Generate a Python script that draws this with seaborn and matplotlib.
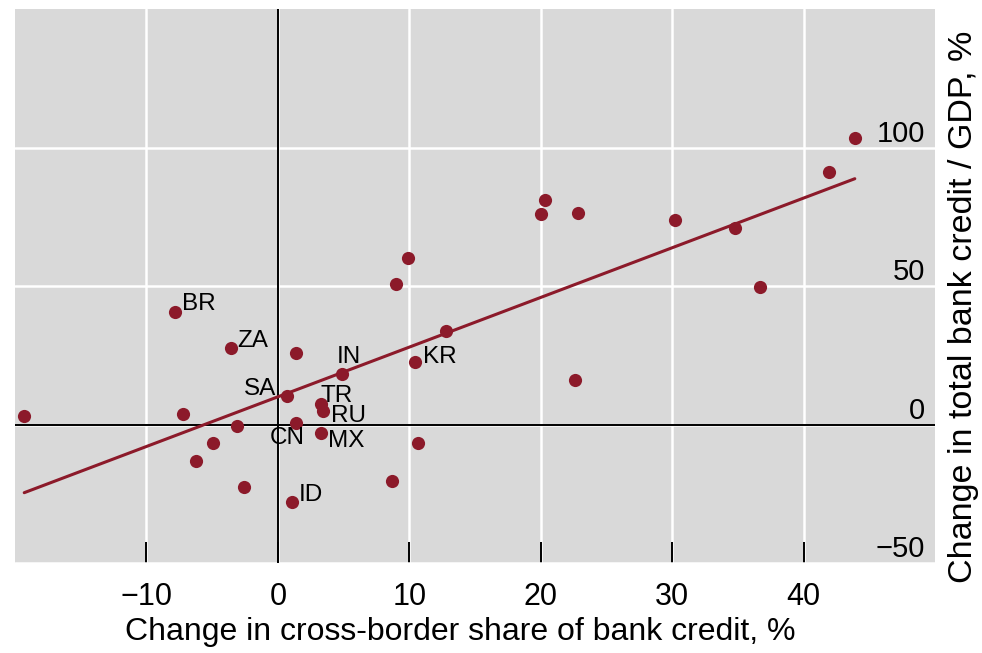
import numpy as np
import pandas as pd
import seaborn as sns
import matplotlib.pyplot as plt

# Dữ liệu
x_share = [-19.3, -7.8, -3.6, 1.4, 4.9, 10.4, 12.8, 0.7, 3.3, 3.4, 1.4, 3.3,
           -3.1, -7.2, -4.9, -6.2, -2.6, 1.1, 8.7, 10.7, 9.0, 9.9, 20.3, 20.0,
           22.8, 30.2, 34.8, 36.7, 22.6, 41.9, 43.9]
y_credit = [3.2, 40.5, 27.6, 25.8, 18.3, 22.6, 33.7, 10.4, 7.5, 5.0, 0.4, -3.2,
            -0.7, 3.9, -6.5, -13.1, -22.6, -28.0, -20.3, -6.8, 50.9, 60.2, 81.0, 76.0,
            76.2, 73.8, 71.1, 49.8, 15.9, 91.1, 103.5]
country = ["", "BR", "ZA", "", "IN", "KR", "", "SA", "TR", "RU", "CN", "MX",
           "", "", "", "", "", "ID", "", "", "", "", "", "",
           "", "", "", "", "", "", ""]

x_ticks = [-10, 0, 10, 20, 30, 40]
y_ticks = [-50, 0, 50, 100]

# vị trí nhãn (offset, px) so với điểm
label_offset = {
    "BR": (7, 8, "left"), "ZA": (7, 7, "left"), "SA": (-11, 7, "right"),
    "IN": (-6, 17, "left"), "TR": (-1, 8, "left"), "RU": (8, -5, "left"),
    "CN": (-9, -15, "center"), "MX": (7, -8, "left"), "ID": (6, 7, "left"),
    "KR": (8, 5, "left"),
}

df = pd.DataFrame({"share": x_share, "credit": y_credit, "country": country})

sns.set_style("darkgrid", {"axes.facecolor": "#d9d9d9", "grid.color": "white"})
plt.rcParams["font.family"] = ["Liberation Sans", "DejaVu Sans"]

red = "#8c1a2a"
fig, ax = plt.subplots(figsize=(9.82, 6.53), dpi=100)
fig.subplots_adjust(left=0.0153, right=0.9521, bottom=0.1378, top=0.9862)

ax.grid(True, color="white", linewidth=1.8)
ax.axhline(0, color="black", linewidth=1.4, zorder=1)
ax.axvline(0, color="black", linewidth=1.4, zorder=1)

sns.regplot(data=df, x="share", y="credit", ci=None, ax=ax,
            scatter_kws={"s": 90, "color": red, "alpha": 1, "linewidths": 0, "zorder": 3},
            line_kws={"color": red, "linewidth": 2.2, "zorder": 2})

for _, r in df[df["country"] != ""].iterrows():
    dx, dy, ha = label_offset[r["country"]]
    ax.annotate(r["country"], (r["share"], r["credit"]), xytext=(dx * 0.72, dy * 0.72),
                textcoords="offset points", ha=ha, va="center", fontsize=17.5, color="black")

ax.set_xlim(-20, 50)
ax.set_ylim(-50, 150)
ax.set_xticks(x_ticks)
ax.set_yticks(y_ticks)
ax.set_xticklabels([f"{t:d}".replace("-", "\u2212") for t in x_ticks])
ax.set_yticklabels([f"{t:d}".replace("-", "\u2212") for t in y_ticks])

ax.tick_params(axis="x", direction="in", length=15, width=1.4, color="black",
               pad=14, labelsize=22, labelcolor="black", bottom=True)
ax.yaxis.tick_right()
ax.tick_params(axis="y", length=0, pad=-7, labelsize=21, labelcolor="black")
for lbl in ax.get_yticklabels():
    lbl.set_ha("right")
    lbl.set_va("bottom")

for s in ax.spines.values():
    s.set_visible(False)

ax.set_xlabel("Change in cross-border share of bank credit, %", fontsize=23, color="black")
ax.xaxis.set_label_coords(0.484, -0.098)
ax.yaxis.set_label_position("right")
ax.set_ylabel("Change in total bank credit / GDP, %", fontsize=24.5, color="black")
ax.yaxis.set_label_coords(1.014, 0.462)

plt.savefig("out.png", dpi=100)
